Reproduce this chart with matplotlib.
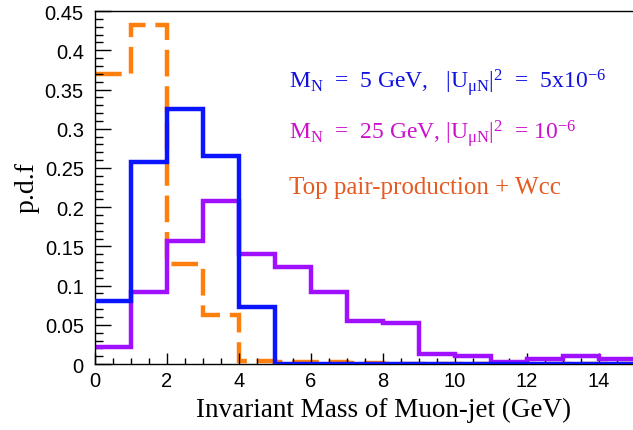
import numpy as np
import matplotlib.pyplot as plt
from matplotlib.ticker import MultipleLocator

# bin edges (GeV) and normalised contents
edges = np.arange(0, 16, 1)
mn5 = [0.080, 0.257, 0.325, 0.265, 0.073, 0, 0, 0, 0, 0, 0, 0, 0, 0, 0]
mn25 = [0.022, 0.092, 0.157, 0.208, 0.140, 0.124, 0.092, 0.055, 0.052,
        0.013, 0.010, 0.003, 0.006, 0.010, 0.006]
bkg = [0.370, 0.432, 0.127, 0.062, 0.004, 0.003, 0.003, 0.001, 0, 0, 0, 0, 0, 0, 0]

plt.rcParams['mathtext.fontset'] = 'custom'
plt.rcParams['mathtext.rm'] = 'Liberation Serif'
plt.rcParams['mathtext.it'] = 'Liberation Serif:italic'

fig = plt.figure(figsize=(6.33, 4.31), dpi=100)
ax = fig.add_axes([0.150, 0.153, 0.853, 0.819])

ax.stairs(bkg, edges, baseline=None, color='#ff7f0e', lw=3.2,
          linestyle=(0, (6, 2.2)), zorder=1)
ax.stairs(mn25, edges, baseline=None, color='#a010ff', lw=3.2, zorder=2)
ax.stairs(mn5, edges, baseline=None, color='#0a14ff', lw=3.2, zorder=3)

ax.set_xlim(0, 15)
ax.set_ylim(0, 0.45)
ax.xaxis.set_major_locator(MultipleLocator(2))
ax.xaxis.set_minor_locator(MultipleLocator(0.5))
ax.yaxis.set_major_locator(MultipleLocator(0.05))
ax.yaxis.set_minor_locator(MultipleLocator(0.01))
ax.yaxis.set_major_formatter(lambda v, p: f'{v:g}')
ax.tick_params(which='both', direction='in', top=False, right=False,
               labelsize=14.5, width=1)
ax.tick_params(axis='y', which='major', length=11.5, pad=8)
ax.tick_params(axis='y', which='minor', length=5.8)
ax.tick_params(axis='x', which='major', length=8, pad=5)
ax.tick_params(axis='x', which='minor', length=4)
for lab in ax.get_xticklabels() + ax.get_yticklabels():
    lab.set_fontfamily('Liberation Sans')
for s in ax.spines.values():
    s.set_linewidth(1)

fig.text(384 / 633, 1 - 410 / 431, 'Invariant Mass of Muon-jet (GeV)',
         family='Liberation Serif', fontsize=19.5, ha='center', va='center')
fig.text(27 / 633, 1 - 188 / 431, 'p.d.f', family='Liberation Serif',
         fontsize=20, rotation=90, ha='center', va='center')

ax.text(5.4, 0.360, r'$\mathrm{M_N}$  =  5 GeV,   $|\mathrm{U_{μN}}|^{\mathrm{2}}$  =  5x10$^{\mathrm{-6}}$',
        color='#1010e0', family='Liberation Serif', fontsize=17, va='center')
ax.text(5.4, 0.295, r'$\mathrm{M_N}$  =  25 GeV, $|\mathrm{U_{μN}}|^{\mathrm{2}}$  = 10$^{\mathrm{-6}}$',
        color='#cc10cc', family='Liberation Serif', fontsize=17, va='center')
ax.text(5.4, 0.226, 'Top pair-production + Wcc',
        color='#e55a20', family='Liberation Serif', fontsize=18, va='center')

fig.savefig('out.png', dpi=100)
